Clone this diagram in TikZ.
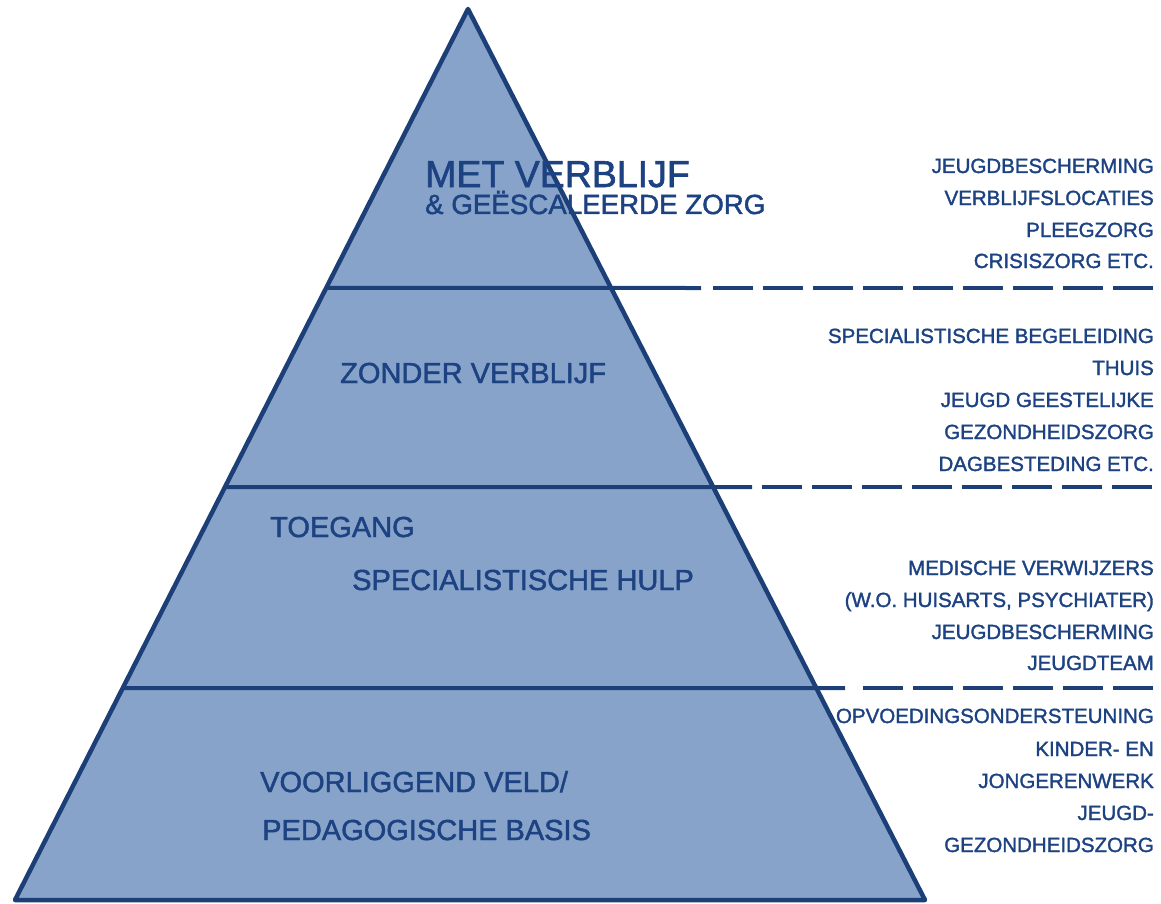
\documentclass[tikz,border=0pt]{standalone}
\usepackage{fontspec}
\setmainfont{Liberation Sans}
\newfontfamily\handfont[FakeBold=1.6]{Liberation Sans}
\usetikzlibrary{calc}
\definecolor{pyrline}{HTML}{1D3F78}
\definecolor{pyrfill}{HTML}{87A3CA}
\definecolor{pyrtext}{HTML}{1C4282}
\tikzset{
  edge/.style={draw=pyrline, line width=4.5pt, line join=round},
  level/.style={draw=pyrline, line width=4pt},
  dashline/.style={draw=pyrline, line width=4pt, dash pattern=on 40pt off 10pt},
  lab/.style={text=pyrtext, inner sep=0pt, anchor=base west, font=\handfont\fontsize{29}{29}\selectfont},
  lst/.style={text=pyrtext, inner sep=0pt, anchor=base east, font=\handfont\fontsize{20.5}{20.5}\selectfont}
}
\begin{document}
\begin{tikzpicture}[x=1pt,y=-1pt]
\useasboundingbox (0,0) rectangle (1161,904);
\coordinate (apex) at (468,9);
\coordinate (bl) at (15,900);
\coordinate (br) at (925,900);
\fill[pyrfill] (apex) -- (bl) -- (br) -- cycle;
% level points on the left edge
\coordinate (l1) at ($(apex)!0.3131!(bl)$);
\coordinate (l2) at ($(apex)!0.5365!(bl)$);
\coordinate (l3) at ($(apex)!0.7621!(bl)$);
\coordinate (s1) at (701,288);
\coordinate (s2) at (752,487);
\coordinate (s3) at (845,688);
\coordinate (d1) at (713,288);
\coordinate (d2) at (762,487);
\coordinate (d3) at (863,688);
\coordinate (e1) at (1158,288);
\coordinate (e2) at (1158,487);
\coordinate (e3) at (1158,688);
\draw[level] (l1) -- (s1);
\draw[level] (l2) -- (s2);
\draw[level] (l3) -- (s3);
\draw[dashline] (d1) -- (e1);
\draw[dashline] (d2) -- (e2);
\draw[dashline] (d3) -- (e3);
\draw[edge] (apex) -- (bl) -- (br) -- cycle;
% pyramid labels
\node[lab, font=\handfont\fontsize{37.5}{37.5}\selectfont] (t1) at (425,187) {MET VERBLIJF};
\node[lab, font=\handfont\fontsize{27.7}{27.7}\selectfont] (t2) at (425,214) {\& GEËSCALEERDE ZORG};
\node[lab] (t3) at (340,383) {ZONDER VERBLIJF};
\node[lab] (t4) at (270,537) {TOEGANG};
\node[lab] (t5) at (352,590) {SPECIALISTISCHE HULP};
\node[lab] (t6) at (260,792) {VOORLIGGEND VELD/};
\node[lab] (t7) at (262,840) {PEDAGOGISCHE BASIS};
% right lists
\node[lst] (a1) at (1154,173) {JEUGDBESCHERMING};
\node[lst] (a2) at (1154,205) {VERBLIJFSLOCATIES};
\node[lst] (a3) at (1154,237) {PLEEGZORG};
\node[lst] (a4) at (1154,268) {CRISISZORG ETC.};
\node[lst] (b1) at (1154,343) {SPECIALISTISCHE BEGELEIDING};
\node[lst] (b2) at (1154,375) {THUIS};
\node[lst] (b3) at (1154,407) {JEUGD GEESTELIJKE};
\node[lst] (b4) at (1154,439) {GEZONDHEIDSZORG};
\node[lst] (b5) at (1154,471) {DAGBESTEDING ETC.};
\node[lst] (c1) at (1154,575) {MEDISCHE VERWIJZERS};
\node[lst] (c2) at (1154,607) {(W.O. HUISARTS, PSYCHIATER)};
\node[lst] (c3) at (1154,639) {JEUGDBESCHERMING};
\node[lst] (c4) at (1154,670) {JEUGDTEAM};
\node[lst] (g1) at (1154,723) {OPVOEDINGSONDERSTEUNING};
\node[lst] (g2) at (1154,756) {KINDER- EN};
\node[lst] (g3) at (1154,788) {JONGERENWERK};
\node[lst] (g4) at (1154,820) {JEUGD-};
\node[lst] (g5) at (1154,852) {GEZONDHEIDSZORG};
\end{tikzpicture}
\end{document}
